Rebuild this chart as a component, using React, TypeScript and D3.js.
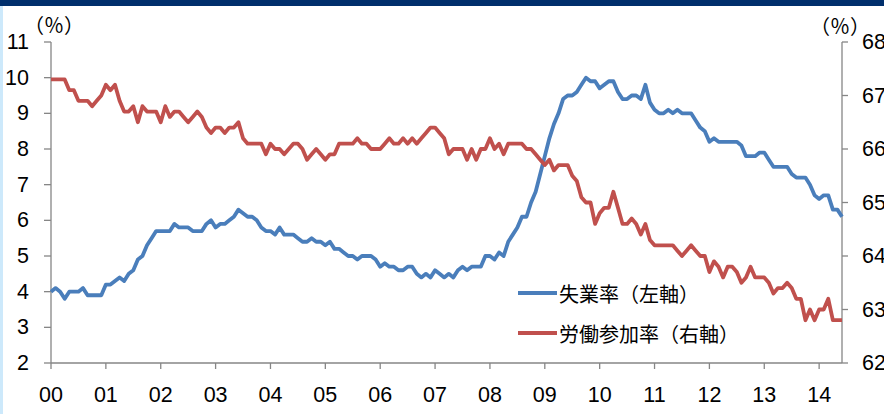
import React from 'react';
import * as d3 from 'd3';

// monthly data, 2000/01 - 2014/06
const unemployment = [
  4.0, 4.1, 4.0, 3.8, 4.0, 4.0, 4.0, 4.1, 3.9, 3.9, 3.9, 3.9, // 00
  4.2, 4.2, 4.3, 4.4, 4.3, 4.5, 4.6, 4.9, 5.0, 5.3, 5.5, 5.7, // 01
  5.7, 5.7, 5.7, 5.9, 5.8, 5.8, 5.8, 5.7, 5.7, 5.7, 5.9, 6.0, // 02
  5.8, 5.9, 5.9, 6.0, 6.1, 6.3, 6.2, 6.1, 6.1, 6.0, 5.8, 5.7, // 03
  5.7, 5.6, 5.8, 5.6, 5.6, 5.6, 5.5, 5.4, 5.4, 5.5, 5.4, 5.4, // 04
  5.3, 5.4, 5.2, 5.2, 5.1, 5.0, 5.0, 4.9, 5.0, 5.0, 5.0, 4.9, // 05
  4.7, 4.8, 4.7, 4.7, 4.6, 4.6, 4.7, 4.7, 4.5, 4.4, 4.5, 4.4, // 06
  4.6, 4.5, 4.4, 4.5, 4.4, 4.6, 4.7, 4.6, 4.7, 4.7, 4.7, 5.0, // 07
  5.0, 4.9, 5.1, 5.0, 5.4, 5.6, 5.8, 6.1, 6.1, 6.5, 6.8, 7.3, // 08
  7.8, 8.3, 8.7, 9.0, 9.4, 9.5, 9.5, 9.6, 9.8, 10.0, 9.9, 9.9, // 09
  9.7, 9.8, 9.9, 9.9, 9.6, 9.4, 9.4, 9.5, 9.5, 9.4, 9.8, 9.3, // 10
  9.1, 9.0, 9.0, 9.1, 9.0, 9.1, 9.0, 9.0, 9.0, 8.8, 8.6, 8.5, // 11
  8.2, 8.3, 8.2, 8.2, 8.2, 8.2, 8.2, 8.1, 7.8, 7.8, 7.8, 7.9, // 12
  7.9, 7.7, 7.5, 7.5, 7.5, 7.5, 7.3, 7.2, 7.2, 7.2, 7.0, 6.7, // 13
  6.6, 6.7, 6.7, 6.3, 6.3, 6.1, // 14
];

const participation = [
  67.3, 67.3, 67.3, 67.3, 67.1, 67.1, 66.9, 66.9, 66.9, 66.8, 66.9, 67.0, // 00
  67.2, 67.1, 67.2, 66.9, 66.7, 66.7, 66.8, 66.5, 66.8, 66.7, 66.7, 66.7, // 01
  66.5, 66.8, 66.6, 66.7, 66.7, 66.6, 66.5, 66.6, 66.7, 66.6, 66.4, 66.3, // 02
  66.4, 66.4, 66.3, 66.4, 66.4, 66.5, 66.2, 66.1, 66.1, 66.1, 66.1, 65.9, // 03
  66.1, 66.0, 66.0, 65.9, 66.0, 66.1, 66.1, 66.0, 65.8, 65.9, 66.0, 65.9, // 04
  65.8, 65.9, 65.9, 66.1, 66.1, 66.1, 66.1, 66.2, 66.1, 66.1, 66.0, 66.0, // 05
  66.0, 66.1, 66.2, 66.1, 66.1, 66.2, 66.1, 66.2, 66.1, 66.2, 66.3, 66.4, // 06
  66.4, 66.3, 66.2, 65.9, 66.0, 66.0, 66.0, 65.8, 66.0, 65.8, 66.0, 66.0, // 07
  66.2, 66.0, 66.1, 65.9, 66.1, 66.1, 66.1, 66.1, 66.0, 66.0, 65.9, 65.8, // 08
  65.7, 65.8, 65.6, 65.7, 65.7, 65.7, 65.5, 65.4, 65.1, 65.0, 65.0, 64.6, // 09
  64.8, 64.9, 64.9, 65.2, 64.9, 64.6, 64.6, 64.7, 64.6, 64.4, 64.6, 64.3, // 10
  64.2, 64.2, 64.2, 64.2, 64.2, 64.1, 64.0, 64.1, 64.2, 64.1, 64.0, 64.0, // 11
  63.7, 63.9, 63.8, 63.6, 63.8, 63.8, 63.7, 63.5, 63.6, 63.8, 63.6, 63.6, // 12
  63.6, 63.5, 63.3, 63.4, 63.4, 63.5, 63.4, 63.2, 63.2, 62.8, 63.0, 62.8, // 13
  63.0, 63.0, 63.2, 62.8, 62.8, 62.8, // 14
];

const yearLabels = ['00', '01', '02', '03', '04', '05', '06', '07', '08', '09', '10', '11', '12', '13', '14'];
const leftTicks = [2, 3, 4, 5, 6, 7, 8, 9, 10, 11];
const rightTicks = [62, 63, 64, 65, 66, 67, 68];
const legendItems = [
  { label: '失業率（左軸）', color: '#4a7ebb' },
  { label: '労働参加率（右軸）', color: '#c0504d' },
];

const W = 884;
const H = 414;
const AXIS = '#868686';
const NUM_FONT = '"Liberation Sans", Arial, sans-serif';
const JP_FONT = '"Noto Sans CJK JP", sans-serif';

export default function App() {
  const last = unemployment.length - 1;
  const x = d3.scaleLinear().domain([0, last]).range([51, 842]);
  const yL = d3.scaleLinear().domain([2, 11]).range([363, 42]);
  const yR = d3.scaleLinear().domain([62, 68]).range([363, 42]);

  const lineL = d3.line<number>().x((_, i) => x(i)).y((d) => yL(d));
  const lineR = d3.line<number>().x((_, i) => x(i)).y((d) => yR(d));

  return (
    <svg width={W} height={H} style={{ position: 'absolute', left: 0, top: 0, background: '#fff' }}>
      <rect x={0} y={0} width={W} height={6} fill="#002f6c" />
      <rect x={0} y={6} width={3} height={H - 6} fill="#cde9fb" />

      {/* axes */}
      <g stroke={AXIS} strokeWidth={1.3} fill="none">
        <line x1={x(0)} x2={x(0)} y1={yL(11)} y2={yL(2)} />
        <line x1={x(last)} x2={x(last)} y1={yR(68)} y2={yR(62)} />
        <line x1={x(0)} x2={x(last)} y1={yL(2)} y2={yL(2)} />
        {leftTicks.map((t) => (
          <line key={'l' + t} x1={x(0) - 7} x2={x(0)} y1={yL(t)} y2={yL(t)} />
        ))}
        {rightTicks.map((t) => (
          <line key={'r' + t} x1={x(last)} x2={x(last) + 6} y1={yR(t)} y2={yR(t)} />
        ))}
        {yearLabels.map((_, i) => (
          <line key={'x' + i} x1={x(i * 12)} x2={x(i * 12)} y1={yL(2)} y2={yL(2) + 6} />
        ))}
      </g>

      <g fontFamily={NUM_FONT} fontSize={21.5} fill="#000">
        {leftTicks.map((t) => (
          <text key={'lt' + t} x={29} y={yL(t)} textAnchor="end" dominantBaseline="central">{t}</text>
        ))}
        {rightTicks.map((t) => (
          <text key={'rt' + t} x={862} y={yR(t)} textAnchor="start" dominantBaseline="central">{t}</text>
        ))}
        {yearLabels.map((l, i) => (
          <text key={'xt' + i} x={x(i * 12)} y={402} textAnchor="middle">{l}</text>
        ))}
      </g>

      <g fontFamily={JP_FONT} fontSize={20} fill="#000">
        <text x={x(0) + 3} y={33} textAnchor="middle">（％）</text>
        <text x={x(last) - 2} y={34} textAnchor="middle">（％）</text>
      </g>

      {/* series */}
      <path d={lineL(unemployment) ?? ''} fill="none" stroke={legendItems[0].color} strokeWidth={3.8} strokeLinejoin="round" />
      <path d={lineR(participation) ?? ''} fill="none" stroke={legendItems[1].color} strokeWidth={3.8} strokeLinejoin="round" />

      {/* legend */}
      {legendItems.map((item, i) => (
        <g key={item.label} transform={`translate(518, ${293 + i * 40})`}>
          <line x1={0} x2={39} y1={0} y2={0} stroke={item.color} strokeWidth={3.8} />
          <text x={41} y={0} dominantBaseline="central" fontFamily={JP_FONT} fontSize={20} fill="#000">
            {item.label}
          </text>
        </g>
      ))}
    </svg>
  );
}
